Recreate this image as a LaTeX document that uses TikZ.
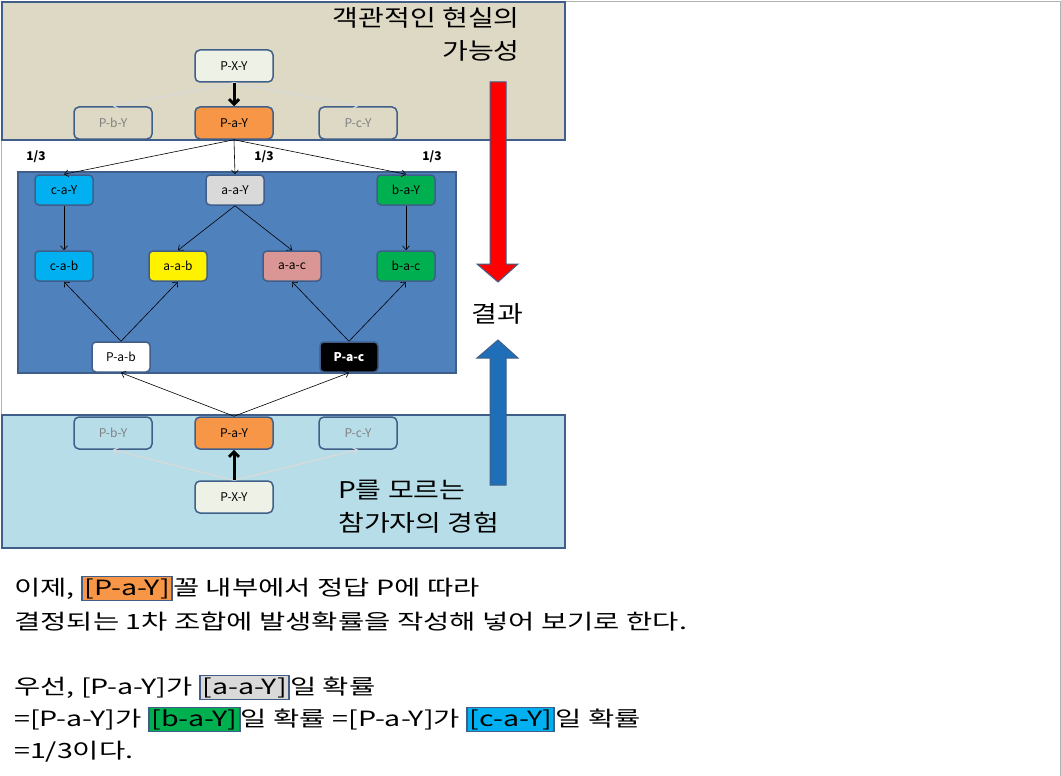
\documentclass[tikz,border=0pt]{standalone}
\usepackage{fontspec}
\usepackage{graphicx}
\setmainfont{Noto Sans CJK KR}
\usetikzlibrary{arrows.meta}
\definecolor{bord}{HTML}{3F5F8A}
\definecolor{beige}{HTML}{DDD9C4}
\definecolor{midblue}{HTML}{4F81BD}
\definecolor{lblue}{HTML}{B7DEE8}
\definecolor{orng}{HTML}{F79646}
\definecolor{cyanb}{HTML}{00B0F0}
\definecolor{grn}{HTML}{00B050}
\definecolor{lgray}{HTML}{D9D9D9}
\definecolor{pink}{HTML}{DA9694}
\definecolor{pale}{HTML}{EEF1E6}
\definecolor{arrblue}{HTML}{1F6FB8}
\newcommand{\hlbox}[2]{{\setlength{\fboxsep}{1pt}\setlength{\fboxrule}{1.5pt}\fcolorbox{bord}{#1}{#2}}}
\newcommand{\wide}[1]{\scalebox{1.36}[1.0]{#1}}
\newcommand{\tw}[1]{\scalebox{1.22}[1.0]{#1}}
\begin{document}
\begin{tikzpicture}[x=1pt,y=-1pt,
  big/.style={draw=bord,line width=1.5pt,rounded corners=5pt,minimum width=78pt,minimum height=32pt,font=\fontsize{12}{13}\selectfont,inner sep=1pt},
  sm/.style={draw=bord,line width=1.5pt,rounded corners=4pt,minimum width=58pt,minimum height=30pt,font=\fontsize{12}{13}\selectfont,inner sep=1pt},
  fade/.style={big,text=gray},
  arr/.style={-{Straight Barb[length=4pt,width=7pt]},line width=0.6pt},
  thick arr/.style={-{Straight Barb[length=5pt,width=10pt]},line width=3pt},
  ghost/.style={-{Straight Barb[length=4pt,width=7pt]},line width=1.2pt,draw=black!15},
  prob/.style={font=\bfseries\fontsize{12}{14}\selectfont}]
\useasboundingbox (0,0) rectangle (1061,776);
\fill[white] (0,0) rectangle (1061,776);
\draw[gray!60] (565,1) -- (1060,1) -- (1060,776);
\draw[gray!60] (1,140) -- (1,415);
% panels
\draw[bord,line width=1.5pt,fill=beige] (2,2) rectangle (565,140);
\draw[bord,line width=1.5pt,fill=midblue] (18,172) rectangle (456,373);
\draw[bord,line width=1.5pt,fill=lblue] (2,415) rectangle (565,548);
% titles
\node[anchor=north east,align=right,font=\fontsize{23}{33}\selectfont,inner sep=0] (t1) at (520,7) {\tw{객관적인 현실의}\\\tw{가능성}};
\node[anchor=north west,align=left,font=\fontsize{23}{33}\selectfont,inner sep=0] (t2) at (338,480) {\tw{P를 모르는}\\\tw{참가자의 경험}};
\node[font=\fontsize{23}{26}\selectfont] (res) at (497,314) {\tw{결과}};
% big arrows
\draw[bord,line width=1pt,fill=red] (490,82) -- (506,82) -- (506,264) -- (518,264) -- (498,282) -- (477,264) -- (490,264) -- cycle;
\draw[bord,line width=1pt,fill=arrblue] (490,485) -- (506,485) -- (506,358) -- (518,358) -- (498,340) -- (477,358) -- (490,358) -- cycle;
% top nodes
\node[big,fill=pale] (tx) at (234,66) {P-X-Y};
\node[fade,fill=beige] (tb) at (113,123) {P-b-Y};
\node[big,fill=orng] (ta) at (234,123) {P-a-Y};
\node[fade,fill=beige] (tc) at (358,123) {P-c-Y};
\draw[ghost] (tx.south) -- (tb.north);
\draw[ghost] (tx.south) -- (tc.north);
\draw[thick arr] (tx.south) -- (ta.north);
% middle nodes
\node[sm,fill=cyanb] (cay) at (64,190) {c-a-Y};
\node[sm,fill=lgray] (aay) at (235,190) {a-a-Y};
\node[sm,fill=grn] (bay) at (406,190) {b-a-Y};
\node[sm,fill=cyanb] (cab) at (64,266) {c-a-b};
\node[sm,fill=yellow] (aab) at (178,266) {a-a-b};
\node[sm,fill=pink] (aac) at (292,266) {a-a-c};
\node[sm,fill=grn] (bac) at (406,266) {b-a-c};
\node[sm,fill=white] (pab) at (121,357) {P-a-b};
\node[sm,fill=black,text=white,font=\bfseries\fontsize{12}{13}\selectfont] (pac) at (349,357) {P-a-c};
\draw[arr] (ta.south) -- (cay.north);
\draw[arr] (ta.south) -- (aay.north);
\draw[arr] (ta.south) -- (bay.north);
\node[prob] (p1) at (36,157) {1/3};
\node[prob] (p2) at (264,157) {1/3};
\node[prob] (p3) at (432,157) {1/3};
\draw[arr] (cay) -- (cab);
\draw[arr] (aay.south) -- (aab.north);
\draw[arr] (aay.south) -- (aac.north);
\draw[arr] (bay) -- (bac);
\draw[arr] (pab.north) -- (cab.south);
\draw[arr] (pab.north) -- (aab.south);
\draw[arr] (pac.north) -- (aac.south);
\draw[arr] (pac.north) -- (bac.south);
% bottom nodes
\node[fade,fill=lblue] (bb) at (113,433) {P-b-Y};
\node[big,fill=orng] (ba) at (234,433) {P-a-Y};
\node[fade,fill=lblue] (bc) at (358,433) {P-c-Y};
\node[big,fill=pale] (bx) at (234,497) {P-X-Y};
\draw[arr] (ba.north) -- (pab.south);
\draw[arr] (ba.north) -- (pac.south);
\draw[ghost] (bx.north) -- (bb.south);
\draw[ghost] (bx.north) -- (bc.south);
\draw[thick arr] (bx.north) -- (ba.south);
% text
\begin{scope}[every node/.style={anchor=base west,inner sep=0,font=\fontsize{21}{24}\selectfont}]
\node (l1) at (14,595) {\wide{이제, \hlbox{orng}{[P-a-Y]}꼴 내부에서 정답 P에 따라}};
\node (l2) at (14,629) {\wide{결정되는 1차 조합에 발생확률을 작성해 넣어 보기로 한다.}};
\node (l3) at (14,694) {\wide{우선, [P-a-Y]가 \hlbox{lgray}{[a-a-Y]}일 확률}};
\node (l4) at (14,726) {\wide{=[P-a-Y]가 \hlbox{grn}{[b-a-Y]}일 확률 =[P-a-Y]가 \hlbox{cyanb}{[c-a-Y]}일 확률}};
\node (l5) at (14,758) {\wide{=1/3이다.}};
\end{scope}
\end{tikzpicture}
\end{document}
